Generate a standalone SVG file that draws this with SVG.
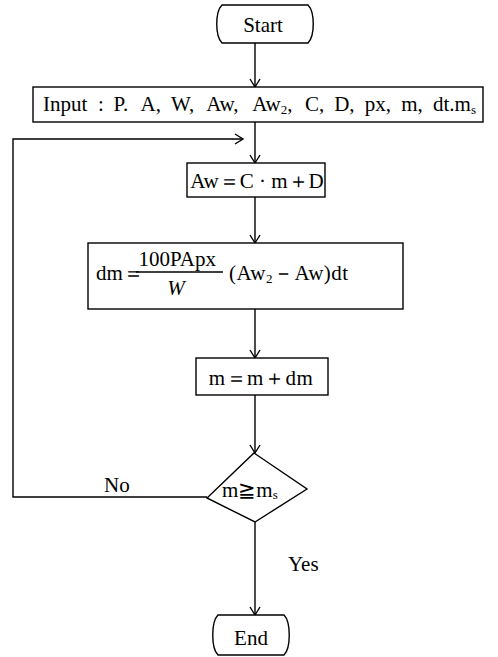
<svg xmlns="http://www.w3.org/2000/svg" width="498" height="657" viewBox="0 0 498 657">
<style>
.s{fill:none;stroke:#000;stroke-width:1.4}
.b{fill:#fff;stroke:#000;stroke-width:1.4}
text{font-family:"Liberation Serif","Times New Roman",serif;fill:#000;font-size:21px}
.c{text-anchor:middle}
.sub{font-size:13px}
</style>
<defs>
<marker id="ah" viewBox="-10 -6 12 12" refX="0" refY="0" markerWidth="12" markerHeight="12" markerUnits="userSpaceOnUse" orient="auto">
<path d="M-8,-5 L0,0 L-8,5" fill="none" stroke="#000" stroke-width="1.4"/>
</marker>
</defs>
<rect width="498" height="657" fill="#fff"/>
<g id="connectors">
<line class="s" x1="255" y1="43" x2="255" y2="87" marker-end="url(#ah)"/>
<line class="s" x1="255" y1="122" x2="255" y2="163" marker-end="url(#ah)"/>
<line class="s" x1="255" y1="197" x2="255" y2="243" marker-end="url(#ah)"/>
<line class="s" x1="255" y1="309" x2="255" y2="358" marker-end="url(#ah)"/>
<line class="s" x1="255" y1="395" x2="255" y2="453" marker-end="url(#ah)"/>
<line class="s" x1="255" y1="522" x2="255" y2="615" marker-end="url(#ah)"/>
<polyline class="s" points="207,497 13,497 13,139 243,139" marker-end="url(#ah)"/>
<text x="104" y="492">No</text>
<text x="288" y="571">Yes</text>
</g>
<g id="start">
<path class="b" d="M222,5 H308 C315,12 315,36 308,43 H222 C215,36 215,12 222,5 Z"/>
<text class="c" x="263" y="32" font-size="22">Start</text>
</g>
<g id="input">
<rect class="b" x="33" y="87" width="450" height="35"/>
<text y="111" font-size="21.5"><tspan x="43">Input</tspan><tspan x="98">:</tspan><tspan x="113.6">P.</tspan><tspan x="140.5">A,</tspan><tspan x="171">W,</tspan><tspan x="206.3">Aw,</tspan><tspan x="252.3">Aw</tspan><tspan class="sub" dy="3">2</tspan><tspan dy="-3">,</tspan><tspan x="305">C,</tspan><tspan x="334.2">D,</tspan><tspan x="364.7">px,</tspan><tspan x="401.2">m,</tspan><tspan x="433">dt.m</tspan><tspan class="sub" dy="3">s</tspan></text>
</g>
<g id="calcAw">
<rect class="b" x="187" y="163" width="138" height="34"/>
<text class="c" x="257" y="188">Aw＝C · m＋D</text>
</g>
<g id="calcDm">
<rect class="b" x="88" y="243" width="315" height="66"/>
<text x="96" y="280">dm＝</text>
<text x="216" y="266" text-anchor="end">100PApx</text>
<line class="s" x1="136" y1="272" x2="223" y2="272"/>
<text class="c" x="176" y="295" font-style="italic">W</text>
<text x="229" y="280" letter-spacing="0.5">(Aw<tspan class="sub" dy="3">2</tspan><tspan dy="-3">－Aw)dt</tspan></text>
</g>
<g id="update">
<rect class="b" x="196" y="358" width="132" height="37"/>
<text class="c" x="261" y="385" letter-spacing="0.5">m＝m＋dm</text>
</g>
<g id="decision">
<polygon class="b" points="254,453 307,489 255,522 207,498"/>
<text x="222" y="497">m≧m<tspan class="sub" dy="2">s</tspan></text>
</g>
<g id="end">
<path class="b" d="M218,615 H284 C291,622 291,648 284,655 H218 C211,648 211,622 218,615 Z"/>
<text class="c" x="251" y="645" font-size="22">End</text>
</g>
</svg>
